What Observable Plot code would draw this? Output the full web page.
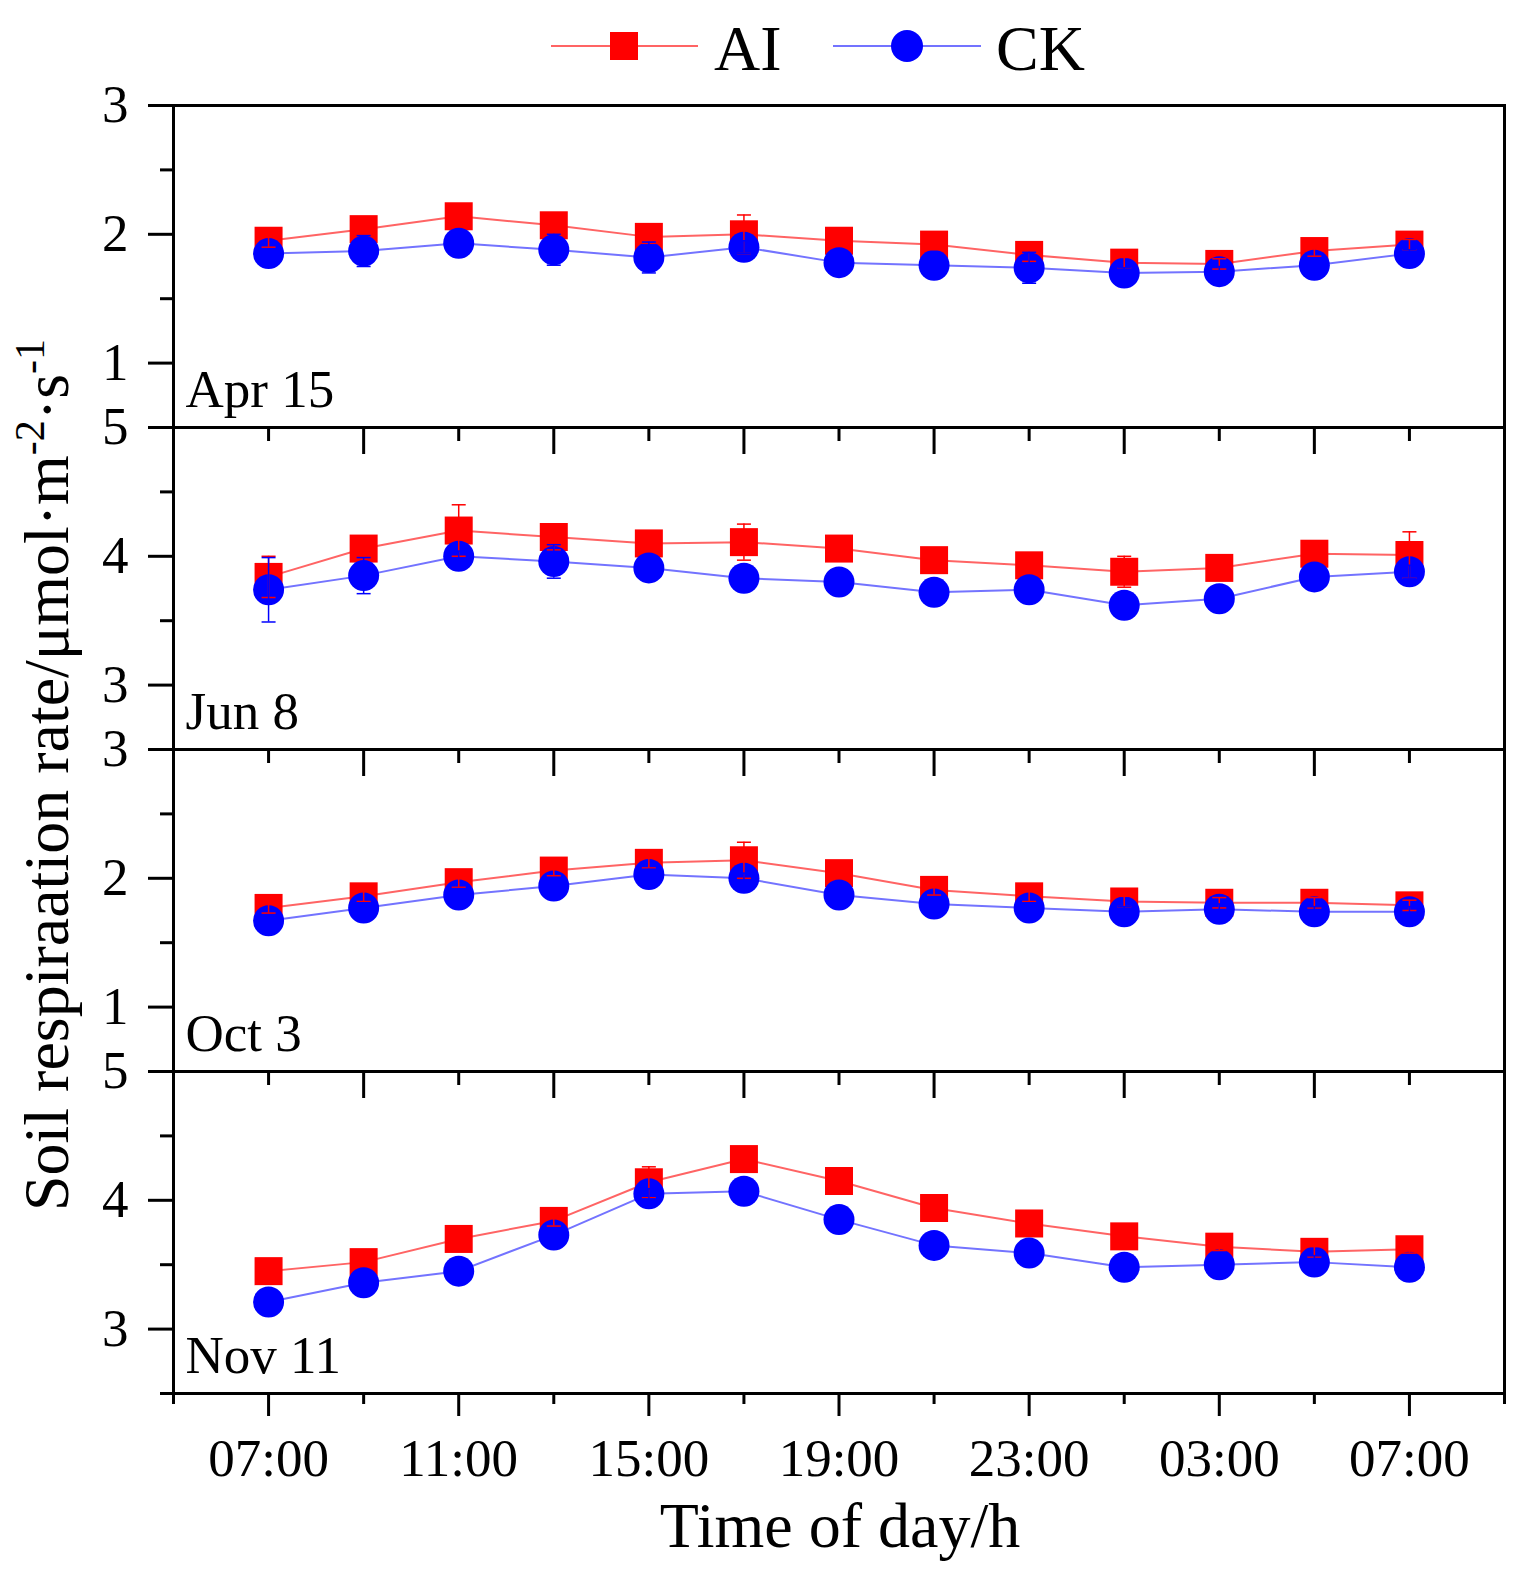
<!DOCTYPE html>
<html>
<head>
<meta charset="utf-8">
<script src="https://cdn.jsdelivr.net/npm/d3@7"></script>
<script src="https://cdn.jsdelivr.net/npm/@observablehq/plot@0.6"></script>
<style>
  body { margin: 0; background: white; }
  #chart { position: relative; width: 1532px; height: 1576px; font-family: "Liberation Serif", "Times New Roman", serif; }
  #chart svg { position: absolute; left: 0; overflow: visible; }
</style>
</head>
<body>
<div id="chart"></div>
<script>
// hours after 07:00, one sample every 2 h
const hours = [0, 2, 4, 6, 8, 10, 12, 14, 16, 18, 20, 22, 24];
const xTickLabels = ["07:00", "11:00", "15:00", "19:00", "23:00", "03:00", "07:00"];
const panelLabels = ["Apr 15", "Jun 8", "Oct 3", "Nov 11"];

const aiApr    = [1.95, 2.04, 2.14, 2.07, 1.98, 2.00, 1.95, 1.92, 1.84, 1.78, 1.77, 1.87, 1.92];
const aiAprErr = [0.05, 0.04, 0.04, 0.05, 0.05, 0.15, 0.04, 0.04, 0.05, 0.04, 0.04, 0.04, 0.04];
const ckApr    = [1.85, 1.87, 1.93, 1.88, 1.82, 1.90, 1.78, 1.76, 1.74, 1.70, 1.71, 1.76, 1.85];
const ckAprErr = [0.03, 0.12, 0.03, 0.12, 0.12, 0.05, 0.03, 0.04, 0.12, 0.04, 0.04, 0.03, 0.03];

const aiJun    = [3.84, 4.06, 4.20, 4.15, 4.10, 4.11, 4.06, 3.97, 3.93, 3.88, 3.91, 4.02, 4.01];
const aiJunErr = [0.16, 0.05, 0.20, 0.10, 0.05, 0.14, 0.05, 0.04, 0.05, 0.12, 0.05, 0.05, 0.18];
const ckJun    = [3.74, 3.85, 4.00, 3.96, 3.91, 3.83, 3.80, 3.72, 3.74, 3.62, 3.67, 3.84, 3.88];
const ckJunErr = [0.25, 0.14, 0.04, 0.13, 0.05, 0.05, 0.05, 0.04, 0.05, 0.05, 0.05, 0.05, 0.05];

const aiOct    = [1.77, 1.86, 1.97, 2.06, 2.12, 2.14, 2.04, 1.91, 1.86, 1.82, 1.81, 1.81, 1.79];
const aiOctErr = [0.04, 0.04, 0.04, 0.04, 0.04, 0.14, 0.04, 0.04, 0.04, 0.04, 0.04, 0.04, 0.04];
const ckOct    = [1.67, 1.77, 1.87, 1.94, 2.03, 2.00, 1.87, 1.80, 1.77, 1.74, 1.76, 1.74, 1.74];
const ckOctErr = [0.04, 0.04, 0.05, 0.04, 0.04, 0.04, 0.04, 0.04, 0.04, 0.04, 0.04, 0.04, 0.04];

const aiNov    = [3.45, 3.52, 3.70, 3.84, 4.14, 4.32, 4.15, 3.94, 3.82, 3.72, 3.64, 3.60, 3.62];
const aiNovErr = [0.03, 0.03, 0.03, 0.04, 0.12, 0.04, 0.10, 0.04, 0.03, 0.03, 0.03, 0.04, 0.03];
const ckNov    = [3.21, 3.36, 3.45, 3.73, 4.05, 4.07, 3.85, 3.65, 3.59, 3.48, 3.50, 3.52, 3.48];
const ckNovErr = [0.03, 0.03, 0.03, 0.04, 0.04, 0.03, 0.03, 0.03, 0.03, 0.03, 0.05, 0.05, 0.03];

const panels = [
  {label: panelLabels[0], ai: aiApr, aiErr: aiAprErr, ck: ckApr, ckErr: ckAprErr, domain: [0.5, 3]},
  {label: panelLabels[1], ai: aiJun, aiErr: aiJunErr, ck: ckJun, ckErr: ckJunErr, domain: [2.5, 5]},
  {label: panelLabels[2], ai: aiOct, aiErr: aiOctErr, ck: ckOct, ckErr: ckOctErr, domain: [0.5, 3]},
  {label: panelLabels[3], ai: aiNov, aiErr: aiNovErr, ck: ckNov, ckErr: ckNovErr, domain: [2.5, 5]}
];

const font = '"Liberation Serif", "Times New Roman", serif';
const red = "#ff0000", blue = "#0000ff";
const top0 = 105, panelH = 322;

// horizontal error bar cap
const cap = {draw(ctx, size) { const w = Math.sqrt(size / Math.PI); ctx.moveTo(-w, 0); ctx.lineTo(w, 0); }};

function errorBars(data, color) {
  return [
    Plot.ruleX(data, {x: "h", y1: d => d.v - d.e, y2: d => d.v + d.e, stroke: color, strokeWidth: 1.5}),
    Plot.dot(data, {x: "h", y: d => d.v + d.e, symbol: cap, r: 7, stroke: color, strokeWidth: 1.5, fill: "none"}),
    Plot.dot(data, {x: "h", y: d => d.v - d.e, symbol: cap, r: 7, stroke: color, strokeWidth: 1.5, fill: "none"})
  ];
}

const chartDiv = d3.select("#chart");

panels.forEach((p, i) => {
  const ai = hours.map((h, j) => ({h, v: p.ai[j], e: p.aiErr[j]}));
  const ck = hours.map((h, j) => ({h, v: p.ck[j], e: p.ckErr[j]}));
  const [lo, hi] = p.domain;
  const major = d3.range(Math.ceil(lo), hi + 0.01, 1);
  const minor = d3.range(lo, hi, 0.5).filter(d => d % 1 !== 0);
  const last = i === panels.length - 1;

  const xAxes = last ? [
    Plot.axisX({anchor: "bottom", ticks: d3.range(0, 25, 4), tickSize: 23, tickPadding: 22, strokeWidth: 3,
      tickFormat: d => xTickLabels[Math.round(d / 4)], fontSize: 53, fontFamily: font, label: null}),
    Plot.axisX({anchor: "bottom", ticks: d3.range(-2, 27, 4), tickSize: 11, strokeWidth: 3, fill: "none", label: null})
  ] : [];
  const innerTicks = i > 0 ? [
    Plot.axisX({anchor: "top", ticks: d3.range(2, 23, 4), tickSize: -26, strokeWidth: 3, fill: "none", label: null}),
    Plot.axisX({anchor: "top", ticks: d3.range(0, 25, 4), tickSize: -13, strokeWidth: 3, fill: "none", label: null})
  ] : [];
  const xScale = i === 0 ? {domain: [-2, 26], label: null, axis: null} : {domain: [-2, 26], label: null};

  const chart = Plot.plot({
    width: 1532,
    height: panelH,
    marginLeft: 173,
    marginRight: 28,
    marginTop: 0,
    marginBottom: 0,
    style: {background: "none", overflow: "visible", fontFamily: font, fontSize: "53px", color: "black"},
    x: xScale,
    y: {domain: p.domain, label: null},
    marks: [
      Plot.line(ai, {x: "h", y: "v", stroke: "#ff6464", strokeWidth: 2}),
      Plot.dot(ai, {x: "h", y: "v", symbol: "square", r: 15.8, fill: red}),
      Plot.line(ck, {x: "h", y: "v", stroke: "#7373ff", strokeWidth: 2}),
      Plot.dot(ck, {x: "h", y: "v", symbol: "circle", r: 15.5, fill: blue}),
      ...errorBars(ai, red),
      ...errorBars(ck, blue),
      Plot.frame({stroke: "black", strokeWidth: 3}),
      Plot.axisY({ticks: major, tickSize: 25, tickPadding: 20, strokeWidth: 3,
        tickFormat: d => String(d), fontSize: 53, fontFamily: font, label: null}),
      Plot.axisY({ticks: minor, tickSize: 13, strokeWidth: 3, fill: "none", label: null}),
      ...xAxes,
      ...innerTicks,
      Plot.text([p.label], {frameAnchor: "bottom-left", text: d => d, dx: 12, dy: -21,
        lineAnchor: "bottom", textAnchor: "start", fontSize: 53, fontFamily: font, fill: "black"})
    ]
  });
  chart.style.top = (top0 + i * panelH) + "px";
  chartDiv.append(() => chart);
});

// legend and axis titles
const overlay = chartDiv.append("svg")
  .attr("width", 1532).attr("height", 1576)
  .style("top", "0px")
  .style("pointer-events", "none")
  .attr("font-family", font);

const legendItems = [
  {name: "AI", color: red, line: "#ff6464", symbol: "square", x0: 551, x1: 698, cx: 624, tx: 714},
  {name: "CK", color: blue, line: "#7373ff", symbol: "circle", x0: 833, x1: 981, cx: 907, tx: 996}
];
const ly = 46;
for (const it of legendItems) {
  overlay.append("line").attr("x1", it.x0).attr("x2", it.x1).attr("y1", ly).attr("y2", ly)
    .attr("stroke", it.line).attr("stroke-width", 2);
  if (it.symbol === "square") {
    overlay.append("rect").attr("x", it.cx - 14).attr("y", ly - 14).attr("width", 28).attr("height", 28).attr("fill", it.color);
  } else {
    overlay.append("circle").attr("cx", it.cx).attr("cy", ly).attr("r", 16).attr("fill", it.color);
  }
  overlay.append("text").attr("x", it.tx).attr("y", ly + 24).attr("font-size", 64).attr("fill", "black").text(it.name);
}

overlay.append("text")
  .attr("x", 840).attr("y", 1547)
  .attr("text-anchor", "middle").attr("font-size", 64).attr("fill", "black")
  .text("Time of day/h");

const yTitle = overlay.append("text")
  .attr("transform", "translate(68,775) rotate(-90)")
  .attr("text-anchor", "middle").attr("font-size", 64).attr("fill", "black");
yTitle.append("tspan").text("Soil respiraation rate/μmol·m");
yTitle.append("tspan").attr("dy", -24).attr("font-size", 42).text("-2");
yTitle.append("tspan").attr("dy", 24).text("·s");
yTitle.append("tspan").attr("dy", -24).attr("font-size", 42).text("-1");
</script>
</body>
</html>
